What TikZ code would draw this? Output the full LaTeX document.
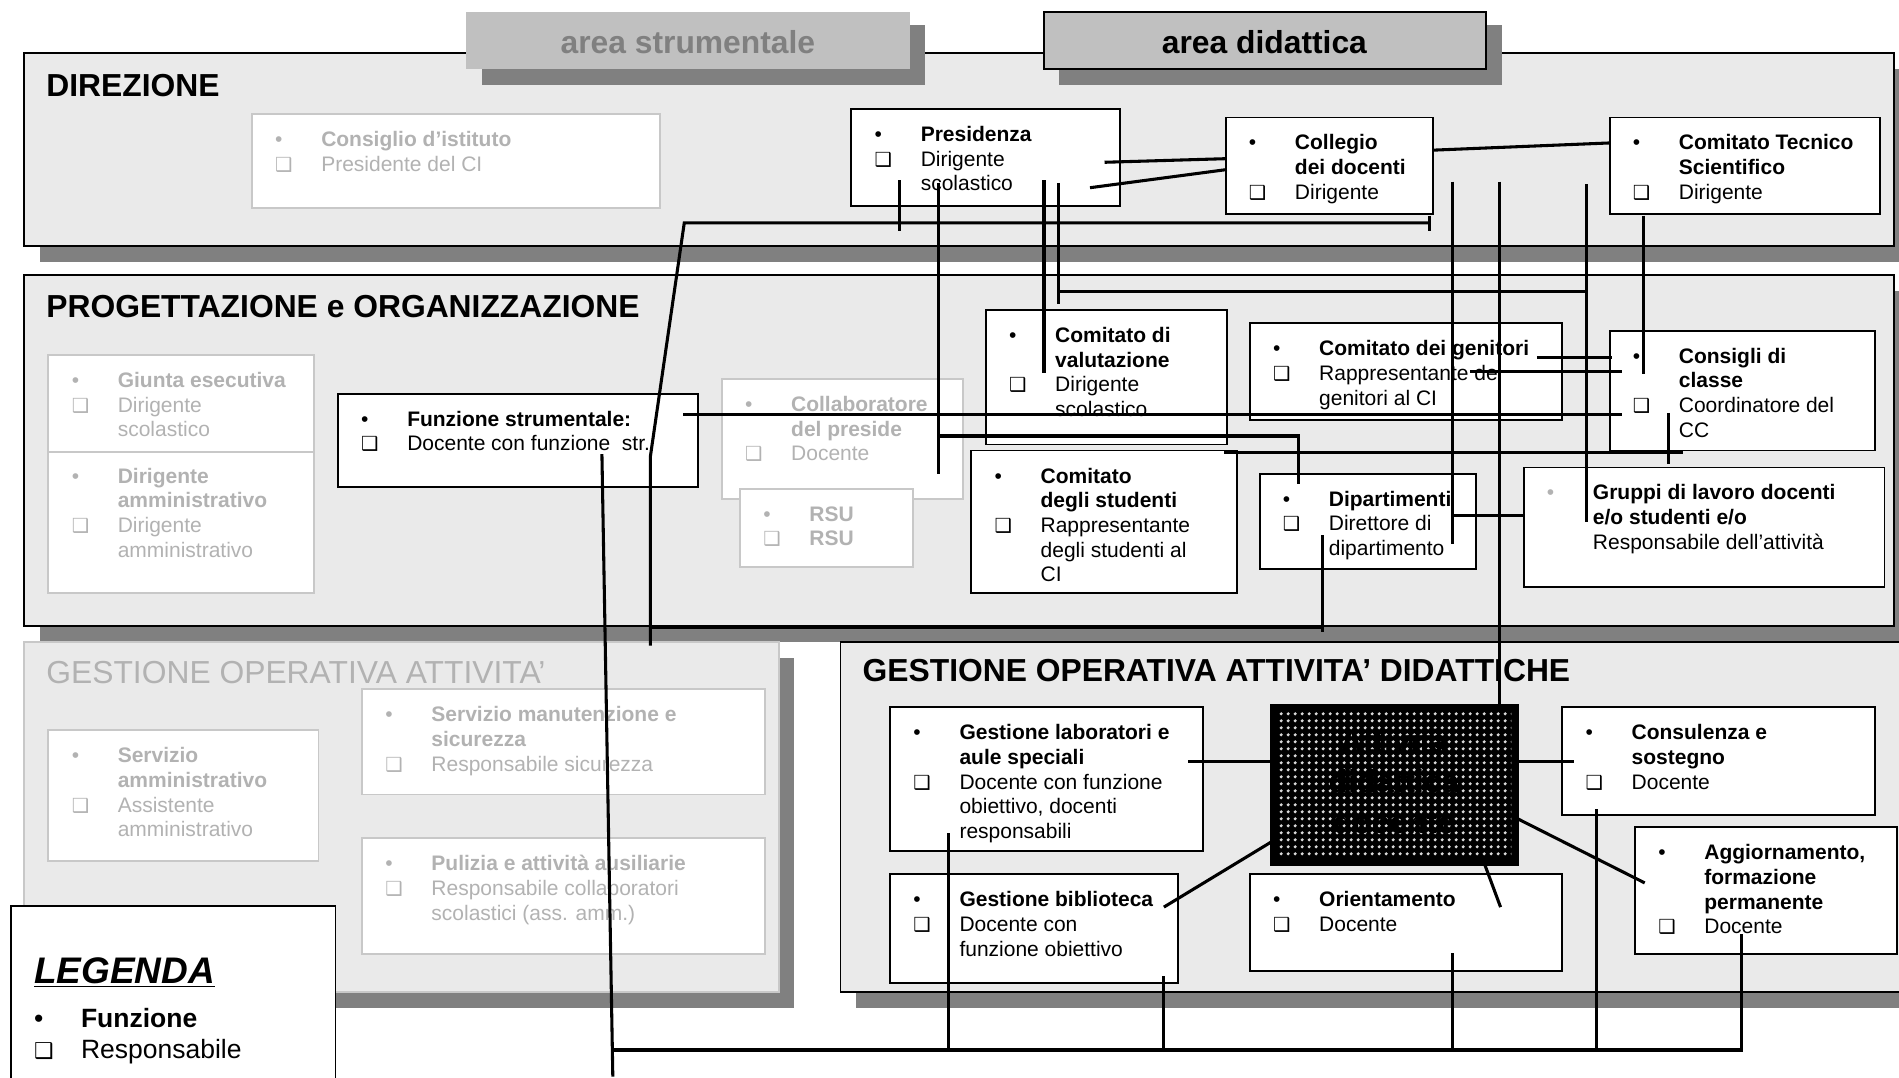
\documentclass[tikz,border=0pt]{standalone}
\usepackage{fontspec}
\setmainfont{Liberation Sans}
\newfontfamily\dejavu{DejaVu Sans}
\usepackage{tikz}
\usetikzlibrary{fit,patterns}

\definecolor{panelgray}{RGB}{234,234,234}
\definecolor{shadowgray}{RGB}{128,128,128}
\definecolor{tabgray}{RGB}{192,192,192}
\definecolor{faded}{RGB}{178,178,178}
\definecolor{fadedline}{RGB}{200,200,200}
\definecolor{dotgray}{RGB}{215,215,215}

\newcommand{\bul}{\makebox[28.5pt][l]{\textbullet}}
\newcommand{\sqr}{\makebox[28.5pt][l]{\dejavu\bfseries\fontsize{12}{12}\selectfont\char"2751}}
\newcommand{\ind}{\hspace*{28.5pt}}

\pgfdeclarepatternformonly{puntini}{\pgfpointorigin}{\pgfqpoint{4.4pt}{4.4pt}}{\pgfqpoint{4.4pt}{4.4pt}}{%
  \pgfpathcircle{\pgfqpoint{2.2pt}{2.2pt}}{1.2pt}\pgfusepath{fill}}

\begin{document}
\begin{tikzpicture}[x=0.75pt,y=0.75pt,yscale=-1,
  panel/.style={draw=black,line width=1.2pt,fill=panelgray,inner sep=0pt},
  fpanel/.style={draw=fadedline,line width=1.2pt,fill=panelgray,inner sep=0pt},
  shadow/.style={fill=shadowgray},
  box/.style={draw=black,line width=1.2pt,fill=white,inner sep=0pt},
  fbox/.style={draw=fadedline,line width=1.2pt,fill=white,inner sep=0pt},
  txt/.style={anchor=north west,inner sep=0pt,align=left,font=\fontsize{13}{15.3}\selectfont},
  ftxt/.style={txt,text=faded},
  title/.style={anchor=base west,inner sep=0pt,font=\fontsize{19.7}{23}\selectfont\bfseries},
  link/.style={line width=1.9pt}]
\useasboundingbox (0,0) rectangle (1568,889.3);
\clip (0,0) rectangle (1568,889.3);

%Shape: Panels with shadow
\fill[shadow] (33,57) rectangle (1590,216);
\node[panel, fit={(20,44) (1564,203)}] (dir) {};
\fill[shadow] (33,240) rectangle (1590,530);
\node[panel, fit={(20,227) (1564,517)}] (prog) {};
\fill[shadow] (33,543) rectangle (656,832);
\node[fpanel, fit={(20,530) (643,819)}] (gest) {};
\fill[shadow] (707,543) rectangle (1590,832);
\node[panel, fit={(694,530) (1590,819)}] (did) {};

%Shape: Tabs
\fill[shadow] (398,21) rectangle (764,70);
\node[fill=tabgray, inner sep=0pt, fit={(385,10) (751,57)}] (tabS) {};
\fill[shadow] (874,21) rectangle (1240,70);
\node[box, fill=tabgray, fit={(862,10) (1227,57)}] (tabD) {};

% Text Node
\node[title, anchor=base, text=shadowgray] (tabST) at (568,44) {area strumentale};
% Text Node
\node[title, anchor=base] (tabDT) at (1044,44) {area didattica};
% Text Node
\node[title] (dirT) at (38,80) {DIREZIONE};
% Text Node
\node[title] (progT) at (38,262) {PROGETTAZIONE e ORGANIZZAZIONE};
% Text Node
\node[title, font=\fontsize{19.7}{23}\selectfont, text=faded] (gestT) at (38,564) {GESTIONE OPERATIVA ATTIVITA’};
% Text Node
\node[title] (didT) at (712,563) {GESTIONE OPERATIVA ATTIVITA’ DIDATTICHE};

%Shape: Boxes of DIREZIONE
\node[fbox, fit={(208,94) (545,172)}] (cdi) {};
\node[box, fit={(703,90) (925,170)}] (pres) {};
\node[box, fit={(1012,97) (1183,177)}] (coll) {};
\node[box, fit={(1329,97) (1552,177)}] (cts) {};
% Text Node
\node[ftxt] (cdiT) at (227,108) {\bul\textbf{Consiglio d’istituto}\\\sqr Presidente del CI};
% Text Node
\node[txt] (presT) at (722,104) {\bul\textbf{Presidenza}\\\sqr Dirigente\\\ind scolastico};
% Text Node
\node[txt] (collT) at (1031,111) {\bul\textbf{Collegio}\\\ind\textbf{dei docenti}\\\sqr Dirigente};
% Text Node
\node[txt] (ctsT) at (1348,111) {\bul\textbf{Comitato Tecnico}\\\ind\textbf{Scientifico}\\\sqr Dirigente};

%Shape: Boxes of PROGETTAZIONE
\node[fbox, fit={(40,293) (259,373)}] (giun) {};
\node[fbox, fit={(40,373) (259,490)}] (dira) {};
\node[box, fit={(279,325) (576,402)}] (funz) {};
\node[fbox, fit={(596,313) (795,412)}] (colp) {};
\node[fbox, fit={(611,404) (754,468)}] (rsu) {};
\node[box, fit={(814,256) (1013,367)}] (valu) {};
\node[box, fit={(1032,267) (1290,347)}] (geni) {};
\node[box, fit={(1329,273) (1548,372)}] (cdc) {};
\node[box, fit={(802,372) (1021,490)}] (stud) {};
\node[box, fit={(1040,391) (1219,470)}] (dipa) {};
\node[box, fit={(1258,386) (1556,485)}] (grup) {};
% Text Node
\node[ftxt] (giunT) at (59,307) {\bul\textbf{Giunta esecutiva}\\\sqr Dirigente\\\ind scolastico};
% Text Node
\node[ftxt] (diraT) at (59,386) {\bul\textbf{Dirigente}\\\ind\textbf{amministrativo}\\\sqr Dirigente\\\ind amministrativo};
% Text Node
\node[txt] (funzT) at (298,339) {\bul\textbf{Funzione strumentale:}\\\sqr Docente con funzione\ \ str.};
% Text Node
\node[ftxt] (colpT) at (615,327) {\bul\textbf{Collaboratore}\\\ind\textbf{del preside}\\\sqr Docente};
% Text Node
\node[ftxt] (rsuT) at (630,418) {\bul\textbf{RSU}\\\sqr\textbf{RSU}};
% Text Node
\node[txt] (valuT) at (833,270) {\bul\textbf{Comitato di}\\\ind\textbf{valutazione}\\\sqr Dirigente\\\ind scolastico};
% Text Node
\node[txt] (geniT) at (1051,281) {\bul\textbf{Comitato dei genitori}\\\sqr Rappresentante dei\\\ind genitori al CI};
% Text Node
\node[txt] (cdcT) at (1348,287) {\bul\textbf{Consigli di}\\\ind\textbf{classe}\\\sqr Coordinatore del\\\ind CC};
% Text Node
\node[txt] (studT) at (821,386) {\bul\textbf{Comitato}\\\ind\textbf{degli studenti}\\\sqr Rappresentante\\\ind degli studenti al\\\ind CI};
% Text Node
\node[txt] (dipaT) at (1059,405) {\bul\textbf{Dipartimenti}\\\sqr Direttore di\\\ind dipartimento};
% Text Node
\node[txt] (grupT) at (1277,400) {\makebox[28.5pt][l]{\textcolor{faded}{\textbullet}}\textbf{Gruppi di lavoro docenti}\\\ind\textbf{e/o studenti e/o}\\\ind Responsabile dell’attività};

%Shape: Boxes of GESTIONE OPERATIVA ATTIVITA'
\node[fbox, fit={(40,603) (263,711)}] (sama) {};
\node[fbox, fit={(299,569) (632,656)}] (sman) {};
\node[fbox, fit={(299,692) (632,788)}] (puli) {};
% Text Node
\node[ftxt] (samaT) at (59,617) {\bul\textbf{Servizio}\\\ind\textbf{amministrativo}\\\sqr Assistente\\\ind amministrativo};
% Text Node
\node[ftxt] (smanT) at (318,583) {\bul\textbf{Servizio manutenzione e}\\\ind\textbf{sicurezza}\\\sqr Responsabile sicurezza};
% Text Node
\node[ftxt] (puliT) at (318,706) {\bul\textbf{Pulizia e attività ausiliarie}\\\sqr Responsabile collaboratori\\\ind scolastici (ass. amm.)};

%Shape: Boxes of GESTIONE OPERATIVA ATTIVITA' DIDATTICHE
\node[box, fit={(735,584) (993,703)}] (lab) {};
\node[box, fit={(1290,584) (1548,673)}] (cons) {};
\node[box, fit={(735,722) (973,812)}] (bibl) {};
\node[box, fit={(1032,722) (1290,802)}] (orie) {};
\node[box, fit={(1350,683) (1566,788)}] (aggi) {};
\node[fill=black, inner sep=0pt, fit={(1049,581) (1254,715)}] (att) {};
\fill[pattern=puntini, pattern color=dotgray] (1055,587) rectangle (1248,709);
% Text Node
\node[font=\fontsize{19.7}{25}\selectfont\bfseries, align=center, inner sep=0pt] (attT) at (1151,645) {Attività\\didattica\\docente};
% Text Node
\node[txt] (labT) at (754,598) {\bul\textbf{Gestione laboratori e}\\\ind\textbf{aule speciali}\\\sqr Docente con funzione\\\ind obiettivo, docenti\\\ind responsabili};
% Text Node
\node[txt] (consT) at (1309,598) {\bul\textbf{Consulenza e}\\\ind\textbf{sostegno}\\\sqr Docente};
% Text Node
\node[txt] (biblT) at (754,736) {\bul\textbf{Gestione biblioteca}\\\sqr Docente con\\\ind funzione obiettivo};
% Text Node
\node[txt] (orieT) at (1051,736) {\bul\textbf{Orientamento}\\\sqr Docente};
% Text Node
\node[txt] (aggiT) at (1369,697) {\bul\textbf{Aggiornamento,}\\\ind\textbf{formazione}\\\ind\textbf{permanente}\\\sqr Docente};

%Shape: Legenda
\node[box, fit={(9,748) (277,905)}] (leg) {};
% Text Node
\node[title, font=\fontsize{22.9}{26}\selectfont\bfseries\itshape] (legT) at (28,812) {\underline{LEGENDA}};
% Text Node
\node[txt, font=\fontsize{16.4}{19.5}\selectfont] (legF) at (28,832) {\makebox[29pt][l]{\textbullet}\textbf{Funzione}\\\makebox[29pt][l]{\dejavu\bfseries\fontsize{13.5}{13.5}\selectfont\char"2751}Responsabile};

%Straight Lines: Presidenza - Collegio - CTS
\coordinate (presA) at (912,134);  \coordinate (collA) at (1013,131);
\coordinate (presB) at (900,155);  \coordinate (collB) at (1013,140);
\coordinate (collC) at (1183,124); \coordinate (ctsA) at (1330,118);
\draw[link] (presA) -- (collA);
\draw[link] (presB) -- (collB);
\draw[link] (collC) -- (ctsA);
%Straight Lines: Collegio - Funzione strumentale
\coordinate (collD) at (1180,184); \coordinate (gomito) at (565,184);
\coordinate (funzA) at (537,377);  \coordinate (gestA) at (537,533);
\coordinate (collE) at (1180,178); \coordinate (collF) at (1180,191);
\coordinate (presC) at (743,149);  \coordinate (presD) at (743,191);
\draw[link] (collD) -- (gomito) -- (funzA) -- (gestA);
\draw[link] (collE) -- (collF);
\draw[link] (presC) -- (presD);
\coordinate (progA) at (537,518);  \coordinate (dipaB) at (1092,518);
\coordinate (dipaA) at (1092,442); \coordinate (dipaC) at (1092,522);
\draw[link] (progA) -- (dipaB);
\draw[link] (dipaA) -- (dipaC);
%Straight Lines: Presidenza - Collaboratore - Dipartimenti
\coordinate (presE) at (775,151);  \coordinate (colpA) at (775,391);
\coordinate (colpB) at (775,360);  \coordinate (dipaD) at (1072,400);
\draw[link] (presE) -- (colpA);
\draw[link] (colpB) -| (dipaD);
%Straight Lines: Presidenza - Comitato di valutazione - Gruppi
\coordinate (presF) at (862,149);  \coordinate (valuA) at (862,308);
\coordinate (presG) at (874,151);  \coordinate (valuB) at (874,251);
\coordinate (presH) at (874,241);  \coordinate (grupA) at (1310,241);
\draw[link] (presF) -- (valuA);
\draw[link] (presG) -- (valuB);
\draw[link] (presH) -- (grupA);
%Straight Lines: Collegio verticals
\coordinate (collG) at (1310,152); \coordinate (grupB) at (1310,431);
\coordinate (collH) at (1199,150); \coordinate (dipaE) at (1199,449);
\coordinate (dipaF) at (1199,426); \coordinate (grupC) at (1258,426);
\coordinate (collI) at (1238,150); \coordinate (attA) at (1238,583);
\draw[link] (collG) -- (grupB);
\draw[link] (collH) -- (dipaE);
\draw[link] (dipaF) -- (grupC);
\draw[link] (collI) -- (attA);
%Straight Lines: Consigli di classe
\coordinate (ctsB) at (1357,178);  \coordinate (cdcA) at (1357,309);
\coordinate (geniA) at (1269,295); \coordinate (cdcB) at (1331,295);
\coordinate (geniB) at (1214,307); \coordinate (cdcC) at (1339,307);
\coordinate (funzB) at (564,342);  \coordinate (cdcD) at (1339,342);
\coordinate (studA) at (1011,374); \coordinate (cdcE) at (1390,374);
\coordinate (cdcF) at (1378,341);  \coordinate (cdcG) at (1378,383);
\draw[link] (ctsB) -- (cdcA);
\draw[link] (geniA) -- (cdcB);
\draw[link] (geniB) -- (cdcC);
\draw[link] (funzB) -- (cdcD);
\draw[link] (studA) -- (cdcE);
\draw[link] (cdcF) -- (cdcG);
%Straight Lines: collector at the bottom
\coordinate (funzC) at (497,375);  \coordinate (fondo) at (506,889);
\coordinate (baseA) at (505,867);  \coordinate (aggiA) at (1438,771);
\coordinate (labA) at (783,688);   \coordinate (bibA) at (961,806);
\coordinate (orieA) at (1199,787); \coordinate (consA) at (1318,668);
\draw[link] (funzC) -- (fondo);
\draw[link] (baseA) -| (aggiA);
\draw[link] (labA) -- (labA |- baseA);
\draw[link] (bibA) -- (bibA |- baseA);
\draw[link] (orieA) -- (orieA |- baseA);
\draw[link] (consA) -- (consA |- baseA);
%Straight Lines: Attivita' didattica docente
\coordinate (labB) at (981,629);   \coordinate (attB) at (1050,629);
\coordinate (attC) at (1253,629);  \coordinate (consB) at (1300,629);
\coordinate (biblB) at (961,749);  \coordinate (attD) at (1050,695);
\coordinate (attE) at (1253,676);  \coordinate (aggiB) at (1358,729);
\coordinate (attF) at (1226,714);  \coordinate (orieB) at (1239,749);
\draw[link] (labB) -- (attB);
\draw[link] (attC) -- (consB);
\draw[link] (biblB) -- (attD);
\draw[link] (attE) -- (aggiB);
\draw[link] (attF) -- (orieB);

\end{tikzpicture}
\end{document}
